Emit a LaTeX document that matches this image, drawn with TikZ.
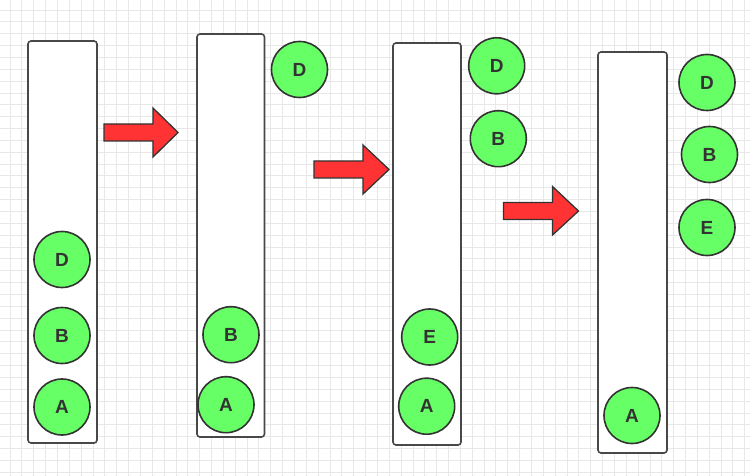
\documentclass[tikz,border=0pt]{standalone}
\usepackage{fontspec}
\setmainfont{Liberation Sans}
\definecolor{ballgreen}{HTML}{66FF66}
\definecolor{inkgray}{HTML}{333333}
\definecolor{boxgray}{HTML}{484848}
\definecolor{arrowred}{HTML}{FF3333}
\definecolor{gridgray}{HTML}{E8E8E8}
\begin{document}
\begin{tikzpicture}[x=1pt,y=-1pt,
  ball/.style={circle,draw=inkgray,fill=ballgreen,line width=1.6pt,minimum size=56pt,inner sep=0pt,
    font=\fontsize{19}{19}\selectfont\bfseries,text=inkgray},
  stackbox/.style={draw=boxgray,fill=white,line width=1.6pt,rounded corners=3pt},
  blockarrow/.style={draw=inkgray,fill=arrowred,line width=1.3pt,line join=miter}]
\useasboundingbox (0,0) rectangle (750,476);
\fill[white] (0,0) rectangle (750,476);
% background grid
\foreach \i in {0,...,62} \draw[gridgray,line width=0.8pt] ({10+11.85*\i},0) -- ({10+11.85*\i},476);
\foreach \j in {0,...,39} \draw[gridgray,line width=0.8pt] (0,{10+11.85*\j}) -- (750,{10+11.85*\j});
% stacks
\draw[stackbox] (28,41) rectangle (97,443);
\draw[stackbox] (197,34) rectangle (264.5,437);
\draw[stackbox] (393,43) rectangle (461,445);
\draw[stackbox] (598,52) rectangle (667,453);
% block arrows
\draw[blockarrow] (104,124) -- (153,124) -- (153,108) -- (178,132.5) -- (153,157) -- (153,141) -- (104,141) -- cycle;
\draw[blockarrow] (314,161) -- (363,161) -- (363,145) -- (389,169.5) -- (363,194) -- (363,178) -- (314,178) -- cycle;
\draw[blockarrow] (503.5,202.5) -- (552.5,202.5) -- (552.5,186.5) -- (578.5,211) -- (552.5,235) -- (552.5,219.5) -- (503.5,219.5) -- cycle;
% balls
\node[ball] (s1d) at (62,259.5) {D};
\node[ball] (s1b) at (62,335.5) {B};
\node[ball] (s1a) at (62,407) {A};
\node[ball] (s2d) at (299.5,69.5) {D};
\node[ball] (s2b) at (231,334.7) {B};
\node[ball] (s2a) at (226,404.7) {A};
\node[ball] (s3d) at (496.7,65.8) {D};
\node[ball] (s3b) at (498.3,138.7) {B};
\node[ball] (s3e) at (429.7,337) {E};
\node[ball] (s3a) at (426.7,406.2) {A};
\node[ball] (s4d) at (707,82.5) {D};
\node[ball] (s4b) at (709.5,154.5) {B};
\node[ball] (s4e) at (707,227.5) {E};
\node[ball] (s4a) at (632,415.5) {A};
\end{tikzpicture}
\end{document}
